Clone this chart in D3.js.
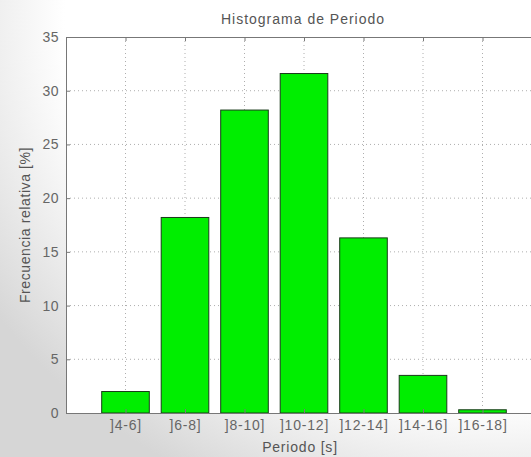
<!DOCTYPE html>
<html>
<head>
<meta charset="utf-8">
<script src="https://cdn.jsdelivr.net/npm/d3@7"></script>
<style>
  body { margin: 0; background: #fff; }
  svg { display: block; font-family: "Liberation Sans", Arial, sans-serif; }
</style>
</head>
<body>
<svg id="chart"></svg>
<script>
const categories = ["]4-6]", "]6-8]", "]8-10]", "]10-12]", "]12-14]", "]14-16]", "]16-18]"];
const values = [2.0, 18.2, 28.2, 31.6, 16.3, 3.5, 0.3];
const yTicks = [0, 5, 10, 15, 20, 25, 30, 35];

const width = 531, height = 457;
const margin = {top: 37, left: 66};
const plotW = 476, plotH = 376;

const svg = d3.select("#chart")
    .attr("width", width)
    .attr("height", height);

// soft grey shading toward the lower-left corner
const defs = svg.append("defs");
const grad = defs.append("radialGradient")
    .attr("id", "shade")
    .attr("cx", "0.95").attr("cy", "0.05").attr("r", "1.15");
grad.append("stop").attr("offset", "0.72").attr("stop-color", "#ffffff");
grad.append("stop").attr("offset", "1").attr("stop-color", "#d6d6d6");
svg.append("rect").attr("width", width).attr("height", height).attr("fill", "url(#shade)");

const g = svg.append("g")
    .attr("transform", `translate(${margin.left},${margin.top})`);

// x positions 1..7 on a 0..8 linear scale, like matlab bar()
const x = d3.scaleLinear().domain([0, categories.length + 1]).range([0, plotW]);
const y = d3.scaleLinear().domain([0, 35]).range([plotH, 0]);
const barW = (x(1) - x(0)) * 0.8;

g.append("rect")
    .attr("width", plotW).attr("height", plotH)
    .attr("fill", "#fff");

// dotted grid
g.selectAll(".vgrid")
    .data(categories)
    .join("line")
    .attr("class", "vgrid")
    .attr("x1", (d, i) => x(i + 1)).attr("x2", (d, i) => x(i + 1))
    .attr("y1", 0).attr("y2", plotH)
    .attr("stroke", "#999").attr("stroke-width", 0.8)
    .attr("stroke-dasharray", "1,3");

g.selectAll(".hgrid")
    .data(yTicks.filter(d => d > 0 && d < 35))
    .join("line")
    .attr("class", "hgrid")
    .attr("x1", 0).attr("x2", plotW)
    .attr("y1", d => y(d)).attr("y2", d => y(d))
    .attr("stroke", "#999").attr("stroke-width", 0.8)
    .attr("stroke-dasharray", "1,3");

// bars
g.selectAll(".bar")
    .data(values)
    .join("rect")
    .attr("class", "bar")
    .attr("x", (d, i) => x(i + 1) - barW / 2)
    .attr("y", d => y(d))
    .attr("width", barW)
    .attr("height", d => plotH - y(d))
    .attr("fill", "#00ee00")
    .attr("stroke", "#1a3a1a")
    .attr("stroke-width", 1);

// axes
const yAxis = d3.axisLeft(y).tickValues(yTicks).tickSize(-4).tickPadding(7);
g.append("g").call(yAxis)
    .call(a => a.select(".domain").attr("stroke", "#777"))
    .call(a => a.selectAll(".tick line").attr("stroke", "#777"))
    .call(a => a.selectAll("text").attr("fill", "#666")
        .style("font-size", "14px").style("letter-spacing", "0.5px"));

const xAxis = d3.axisBottom(x)
    .tickValues(d3.range(1, categories.length + 1))
    .tickFormat(d => categories[d - 1])
    .tickSize(-4).tickPadding(7);
g.append("g")
    .attr("transform", `translate(0,${plotH})`)
    .call(xAxis)
    .call(a => a.select(".domain").attr("stroke", "#777"))
    .call(a => a.selectAll(".tick line").attr("stroke", "#777"))
    .call(a => a.selectAll("text").attr("fill", "#666")
        .style("font-size", "14px").style("letter-spacing", "0.8px"));

// top and right box edges
g.append("g").call(d3.axisTop(x).tickValues(d3.range(1, categories.length + 1)).tickSize(-4).tickFormat(""))
    .call(a => a.select(".domain").attr("stroke", "#777"))
    .call(a => a.selectAll(".tick line").attr("stroke", "#777"));
g.append("line")
    .attr("x1", plotW).attr("x2", plotW).attr("y1", 0).attr("y2", plotH)
    .attr("stroke", "#777");

// labels
svg.append("text")
    .attr("x", margin.left + plotW / 2 - 1).attr("y", 24)
    .attr("text-anchor", "middle")
    .attr("fill", "#555").style("font-size", "14px").style("letter-spacing", "1px")
    .text("Histograma de Periodo");

svg.append("text")
    .attr("x", margin.left + plotW / 2 - 4).attr("y", 452)
    .attr("text-anchor", "middle")
    .attr("fill", "#555").style("font-size", "14px").style("letter-spacing", "0.8px")
    .text("Periodo [s]");

svg.append("text")
    .attr("transform", `translate(30,${margin.top + plotH / 2}) rotate(-90)`)
    .attr("text-anchor", "middle")
    .attr("fill", "#555").style("font-size", "14px").style("letter-spacing", "0.6px")
    .text("Frecuencia relativa [%]");
</script>
</body>
</html>
